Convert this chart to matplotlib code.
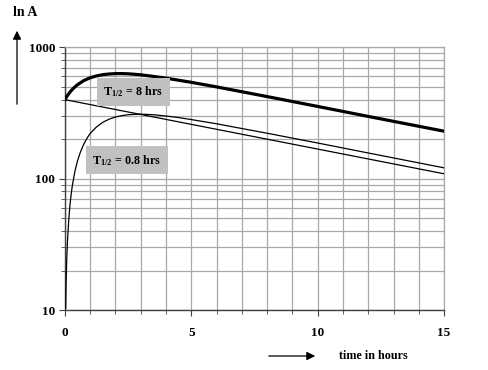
import matplotlib
matplotlib.use("Agg")
import matplotlib.pyplot as plt
from matplotlib.ticker import FixedLocator, NullFormatter, LogLocator

plt.rcParams['font.family'] = ['Liberation Serif', 'DejaVu Serif']
plt.rcParams['font.weight'] = 'bold'
plt.rcParams['mathtext.fontset'] = 'custom'
plt.rcParams['mathtext.rm'] = 'Liberation Serif:bold'
plt.rcParams['mathtext.default'] = 'rm'

# values (activity vs time in hours)
t_parent = [0, 15]
a_parent = [400, 109]

t_daughter = [0.03, 0.05, 0.075, 0.1, 0.15, 0.2, 0.25, 0.3, 0.4, 0.5, 0.6, 0.75, 0.9, 1, 1.25, 1.5,
              1.75, 2, 2.25, 2.5, 2.75, 3, 3.5, 4, 4.5, 5, 6, 7, 8, 10, 12, 15]
a_daughter = [10.3, 17, 25, 33, 48, 63, 77, 90, 115, 137, 157, 184, 207, 221, 248, 269,
              284, 295, 302, 307, 309, 310, 307, 300, 292, 282, 262, 241, 222, 187, 157, 121]

t_total = [0, 0.1, 0.2, 0.3, 0.4, 0.5, 0.75, 1, 1.25, 1.5, 1.75, 2, 2.25, 2.5, 2.75, 3, 3.5, 4,
           4.5, 5, 6, 8, 10, 12, 15]
a_total = [400, 430, 456, 480, 501, 520, 559, 587, 606, 620, 627, 631, 631.5, 629, 624, 618, 601, 583,
           562, 542, 500, 422, 355, 298, 230]

x_labels = [0, 5, 10, 15]
y_labels = [10, 100, 1000]

fig = plt.figure(figsize=(4.88, 3.7), dpi=100)
ax = fig.add_axes([0.133, 0.162, 0.777, 0.71])

ax.plot(t_total, a_total, color='black', lw=2.3, zorder=3)
ax.plot(t_parent, a_parent, color='black', lw=0.9, zorder=3)
ax.plot(t_daughter, a_daughter, color='black', lw=0.9, zorder=3)

ax.set_yscale('log')
ax.set_xlim(0, 15)
ax.set_ylim(10, 1000)

ax.xaxis.set_major_locator(FixedLocator(x_labels))
ax.xaxis.set_minor_locator(FixedLocator(range(0, 16)))
ax.yaxis.set_major_locator(FixedLocator(y_labels))
ax.yaxis.set_minor_locator(LogLocator(base=10, subs=range(2, 10)))
ax.yaxis.set_minor_formatter(NullFormatter())
ax.set_yticklabels([str(v) for v in y_labels])

ax.grid(which='both', color='#a8a8a8', lw=0.9)
ax.set_axisbelow(True)
for s in ['top', 'right']:
    ax.spines[s].set_color('#a8a8a8')
    ax.spines[s].set_linewidth(0.9)
for s in ['left', 'bottom']:
    ax.spines[s].set_color('#404040')
    ax.spines[s].set_linewidth(1.0)

ax.tick_params(which='both', direction='out', color='#404040', labelsize=9.5)
ax.tick_params(which='major', length=4, pad=8)
ax.tick_params(which='minor', length=3)
ax.tick_params(axis='y', which='major', pad=3)

box = dict(boxstyle='square,pad=0.55', fc='#c0c0c0', ec='none')
ax.text(2.7, 457, r'T$_{1/2}$ = 8 hrs', fontsize=8.7, ha='center', va='center', bbox=box, zorder=4)
ax.text(2.45, 138, r'T$_{1/2}$ = 0.8 hrs', fontsize=8.7, ha='center', va='center', bbox=box, zorder=4)

fig.text(13 / 488, 1 - 13 / 370, 'ln A', fontsize=10, ha='left', va='center')
fig.add_artist(matplotlib.patches.FancyArrowPatch(
    (17 / 488, 1 - 107 / 370), (17 / 488, 1 - 28 / 370), transform=fig.transFigure,
    arrowstyle='-|>,head_length=5,head_width=2.5', color='black', lw=0.9))
fig.text(339 / 488, 1 - 356 / 370, 'time in hours', fontsize=8.7, ha='left', va='center')
fig.add_artist(matplotlib.patches.FancyArrowPatch(
    (266 / 488, 1 - 356 / 370), (318 / 488, 1 - 356 / 370), transform=fig.transFigure,
    arrowstyle='-|>,head_length=5,head_width=2.5', color='black', lw=0.9))

fig.savefig('out.png', dpi=100)
